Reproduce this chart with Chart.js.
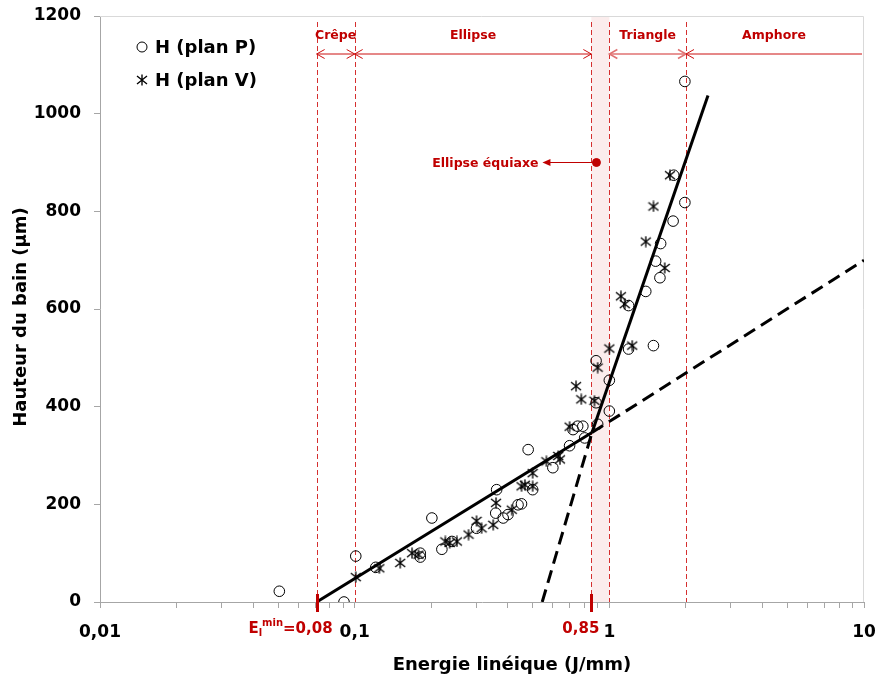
<!DOCTYPE html>
<html><head><meta charset="utf-8">
<script src="https://cdn.jsdelivr.net/npm/chart.js@4.4.1/dist/chart.umd.min.js"></script>
<style>html,body{margin:0;padding:0;background:#fff;}canvas{display:block;}</style>
</head><body>
<canvas id="c" width="879" height="678"></canvas>
<script>
// ---- DATA ----
const planP_x = [0.0506,0.0908,0.101,0.121,0.181,0.181,0.201,0.22,0.241,0.301,0.358,0.361,0.383,0.40,0.438,0.452,0.48,0.50,0.60,0.698,0.72,0.751,0.787,0.80,0.887,0.887,0.90,1.0,1.0,1.19,1.19,1.39,1.49,1.52,1.58,1.59,1.78,1.79,1.98,1.98];
const planP_y = [22,0,94,71,100,92,172,108,124,151,182,230,172,179,199,201,312,230,275,320,353,360,360,336,494,408,364,454,391,518,607,636,525,698,664,734,780,874,818,1066];
const planV_x = [0.101,0.125,0.151,0.168,0.178,0.227,0.236,0.252,0.28,0.301,0.315,0.35,0.359,0.414,0.452,0.466,0.50,0.50,0.566,0.63,0.64,0.698,0.74,0.776,0.874,0.90,1.0,1.11,1.15,1.23,1.39,1.49,1.65,1.73];
const planV_y = [51,69,80,100,97,124,121,124,138,166,151,158,203,189,237,240,237,264,288,299,292,359,442,415,412,480,519,626,610,525,738,810,684,874];
const fitLow_x = [0.0709, 0.855];   const fitLow_y = [0, 347];
const fitLowExt_x = [0.855, 10];    const fitLowExt_y = [347, 700];
const fitHigh_x = [0.855, 2.44];    const fitHigh_y = [347, 1037];
const fitHighExt_x = [0.545, 0.855]; const fitHighExt_y = [0, 347];
const equiaxe_x = [0.89]; const equiaxe_y = [900];
const equiaxeLabel = 'Ellipse équiaxe';
const seriesLabels = ['H (plan P)', 'H (plan V)'];
const xTickValues = [0.01,0.02,0.03,0.04,0.05,0.06,0.07,0.08,0.09,0.1,0.2,0.3,0.4,0.5,0.6,0.7,0.8,0.9,1,2,3,4,5,6,7,8,9,10];
const xTickLabelValues = [0.01,0.1,1,10];
const xTickLabels = ['0,01','0,1','1','10'];
const yTickStep = 200;
const regionBounds = [0.0709, 0.1, 0.85, 1, 2, 10];
const regionNames = ['Crêpe','Ellipse','','Triangle','Amphore'];
const bandRange = [0.85, 1];
const markerValues = [0.0709, 0.85];
const xTitle = 'Energie linéique (J/mm)';
const yTitle = 'Hauteur du bain (µm)';

// ---- helpers ----
const zip = (xs, ys) => xs.map((x, i) => ({x, y: ys[i]}));
const FONT = "'DejaVu Sans', Verdana, sans-serif";
const RED = '#c00000';

function makeAsterisk(size){
  const c = document.createElement('canvas'); c.width = size; c.height = size;
  const g = c.getContext('2d'); g.strokeStyle = '#000'; g.lineWidth = 1.35;
  const m = size/2;
  g.beginPath();
  g.moveTo(m, 0.5); g.lineTo(m, size-0.5);
  g.moveTo(1, 2); g.lineTo(size-1, size-2);
  g.moveTo(1, size-2); g.lineTo(size-1, 2);
  g.stroke();
  return c;
}
const asterisk = makeAsterisk(12);

const annotPlugin = {
  id: 'annot',
  afterLayout(chart){
    const sx = chart.scales.x, sy = chart.scales.y;
    if (!sx._shiftTitle){
      const o = sx.drawTitle.bind(sx);
      sx.drawTitle = function(){ const l = this.left; this.left = l + 60; o(); this.left = l; };
      sx._shiftTitle = true;
    }
    if (!sy._shiftTitle){
      const o = sy.drawTitle.bind(sy);
      sy.drawTitle = function(){ const t = this.top; this.top = t + 16; o(); this.top = t; };
      sy._shiftTitle = true;
    }
  },
  beforeDatasetsDraw(chart){
    const {ctx, chartArea: a, scales: {x}} = chart;
    ctx.save();
    // frame top/right
    ctx.strokeStyle = '#d9d9d9'; ctx.lineWidth = 1;
    ctx.beginPath(); ctx.moveTo(a.left, a.top + 0.5); ctx.lineTo(a.right - 0.5, a.top + 0.5); ctx.lineTo(a.right - 0.5, a.bottom); ctx.stroke();
    // band
    const b0 = x.getPixelForValue(bandRange[0]), b1 = x.getPixelForValue(bandRange[1]);
    ctx.fillStyle = '#fbeded';
    ctx.fillRect(b0, a.top + 1, b1 - b0, a.bottom - a.top - 1);
    // dashed boundaries
    ctx.strokeStyle = '#d52f2f'; ctx.lineWidth = 1; ctx.setLineDash([5, 3]);
    regionBounds.slice(0, -1).forEach(v => {
      const px = Math.round(x.getPixelForValue(v)) + 0.5;
      ctx.beginPath(); ctx.moveTo(px, a.top + 6); ctx.lineTo(px, a.bottom); ctx.stroke();
    });
    ctx.restore();
  },
  afterDraw(chart){
    const {ctx, chartArea: a, scales: {x, y}} = chart;
    ctx.save();
    // region arrows
    const ay = a.top + 38;
    const chev = (px, dir) => { ctx.beginPath(); ctx.moveTo(px - dir*8, ay - 4.5); ctx.lineTo(px, ay); ctx.lineTo(px - dir*8, ay + 4.5); ctx.stroke(); };
    for (let i = 0; i < regionNames.length; i++){
      if (!regionNames[i]) continue;
      const x0 = x.getPixelForValue(regionBounds[i]);
      const last = i === regionNames.length - 1;
      const x1 = last ? a.right - 2 : x.getPixelForValue(regionBounds[i+1]);
      ctx.strokeStyle = regionNames[i] === 'Triangle' ? '#e07272' : '#cc1010';
      ctx.lineWidth = regionNames[i] === 'Triangle' ? 1.5 : 1;
      ctx.beginPath(); ctx.moveTo(x0, ay); ctx.lineTo(x1, ay); ctx.stroke();
      chev(x0, -1);
      if (!last) chev(x1, 1);
      ctx.fillStyle = RED; ctx.font = 'bold 12.5px ' + FONT;
      ctx.textAlign = 'center'; ctx.textBaseline = 'middle';
      ctx.fillText(regionNames[i], (x0 + x1) / 2, a.top + 20);
    }
    // equiaxe annotation
    const ex = x.getPixelForValue(equiaxe_x[0]), ey = y.getPixelForValue(equiaxe_y[0]);
    ctx.strokeStyle = RED; ctx.fillStyle = RED; ctx.lineWidth = 1.2;
    const tip = ex - 54;
    ctx.beginPath(); ctx.moveTo(ex, ey); ctx.lineTo(tip + 6, ey); ctx.stroke();
    ctx.beginPath(); ctx.moveTo(tip, ey); ctx.lineTo(tip + 8, ey - 3.5); ctx.lineTo(tip + 8, ey + 3.5); ctx.closePath(); ctx.fill();
    ctx.font = 'bold 12.5px ' + FONT; ctx.textAlign = 'right'; ctx.textBaseline = 'middle';
    ctx.fillText(equiaxeLabel, tip - 4, ey + 1);
    // red markers on x axis
    ctx.fillStyle = RED;
    markerValues.forEach(v => {
      const px = Math.round(x.getPixelForValue(v));
      ctx.fillRect(px - 1, a.bottom - 8, 3, 18);
    });
    // marker labels
    const ly = a.bottom + 27;
    const m0 = x.getPixelForValue(markerValues[0]);
    const m1 = x.getPixelForValue(markerValues[1]);
    ctx.textBaseline = 'middle'; ctx.textAlign = 'left';
    const big = 'bold 15px ' + FONT, small = 'bold 10px ' + FONT;
    ctx.font = big; const wEq = ctx.measureText('=0,08').width; const wE = ctx.measureText('E').width;
    ctx.font = small; const wMin = ctx.measureText('min').width; const wL = ctx.measureText('l').width;
    let cx = m0 + 16 - wEq - wMin - wL - wE;
    ctx.font = big; ctx.fillText('E', cx, ly); cx += wE;
    ctx.font = small; ctx.fillText('l', cx, ly + 4); cx += wL;
    ctx.fillText('min', cx, ly - 6); cx += wMin;
    ctx.font = big; ctx.fillText('=0,08', cx, ly);
    ctx.textAlign = 'right'; ctx.fillText('0,85', m1 + 8, ly);
    // legend
    const lx = a.left + 42;
    const rows = [a.top + 31, a.top + 64];
    ctx.strokeStyle = '#000'; ctx.lineWidth = 1;
    ctx.beginPath(); ctx.arc(lx, rows[0], 5, 0, Math.PI*2); ctx.stroke();
    ctx.drawImage(asterisk, lx - 6, rows[1] - 6);
    ctx.fillStyle = '#000'; ctx.font = 'bold 18px ' + FONT; ctx.textAlign = 'left'; ctx.textBaseline = 'middle';
    ctx.fillText(seriesLabels[0], lx + 13, rows[0] + 1);
    ctx.fillText(seriesLabels[1], lx + 13, rows[1] + 1);
    ctx.restore();
  }
};

const lineStyle = (data, dashed) => ({
  type: 'line', data, borderColor: '#000', borderWidth: 3, pointRadius: 0,
  borderDash: dashed ? [13, 7] : [], fill: false, order: 0, tension: 0
});

new Chart(document.getElementById('c'), {
  type: 'scatter',
  data: {
    datasets: [
      {label: seriesLabels[0], data: zip(planP_x, planP_y), pointStyle: 'circle', pointRadius: 5.3,
       borderColor: '#000', backgroundColor: 'rgba(255,255,255,0)', borderWidth: 1, order: 2},
      {label: seriesLabels[1], data: zip(planV_x, planV_y), pointStyle: asterisk, pointRadius: 6,
       borderColor: '#000', backgroundColor: '#000', order: 2},
      Object.assign({label: 'fit1'}, lineStyle(zip(fitLow_x, fitLow_y), false)),
      Object.assign({label: 'fit1 ext'}, lineStyle(zip(fitLowExt_x, fitLowExt_y), true)),
      Object.assign({label: 'fit2'}, lineStyle(zip(fitHigh_x, fitHigh_y), false)),
      Object.assign({label: 'fit2 ext'}, lineStyle(zip(fitHighExt_x, fitHighExt_y), true)),
      {label: equiaxeLabel, data: zip(equiaxe_x, equiaxe_y), pointRadius: 4, pointStyle: 'circle',
       backgroundColor: RED, borderColor: RED, order: 1}
    ]
  },
  options: {
    responsive: false, animation: false, devicePixelRatio: 1,
    layout: {padding: {top: 16, right: 15, left: 0, bottom: 0}},
    plugins: {legend: {display: false}, tooltip: {enabled: false}},
    scales: {
      x: {
        type: 'logarithmic', min: 0.01, max: 10,
        afterBuildTicks(s){ s.ticks = xTickValues.map(v => ({value: v})); },
        afterFit(s){ s.height = 76; s.paddingLeft = 0; s.paddingRight = 0; },
        ticks: {
          autoSkip: false, maxRotation: 0, minRotation: 0, padding: 14, color: '#000',
          font: {family: FONT, size: 17, weight: 'bold'},
          callback(v){ const i = xTickLabelValues.findIndex(t => Math.abs(t - v) / t < 1e-6); return i >= 0 ? xTickLabels[i] : ''; }
        },
        grid: {drawOnChartArea: false, tickLength: 6, color: '#a6a6a6'},
        border: {color: '#a6a6a6'},
        title: {display: true, text: xTitle, color: '#000', font: {family: FONT, size: 18, weight: 'bold'}, padding: {top: 0, bottom: 2}}
      },
      y: {
        min: 0, max: 1200,
        afterFit(s){ s.width = 100; s.paddingTop = 0; s.paddingBottom = 0; },
        ticks: {stepSize: yTickStep, padding: 13, color: '#000', font: {family: FONT, size: 17, weight: 'bold'},
          callback(v){ return String(v); }},
        grid: {drawOnChartArea: false, tickLength: 6, color: '#a6a6a6'},
        border: {color: '#a6a6a6'},
        title: {display: true, text: yTitle, color: '#000', font: {family: FONT, size: 18, weight: 'bold'}, padding: {top: 11, bottom: 0}}
      }
    }
  },
  plugins: [annotPlugin]
});
</script>
</body></html>
